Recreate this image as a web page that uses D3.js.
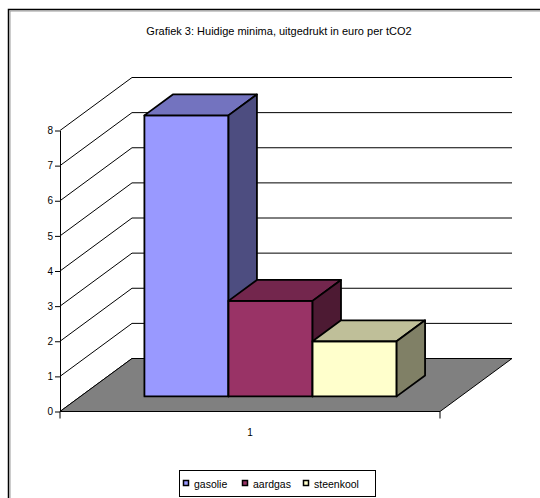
<!DOCTYPE html>
<html>
<head>
<meta charset="utf-8">
<script src="https://cdn.jsdelivr.net/npm/d3@7"></script>
<style>
  html, body { margin: 0; padding: 0; background: #fff; }
  svg { display: block; font-family: Arial, "Liberation Sans", sans-serif; }
</style>
</head>
<body>
<div id="chart"></div>
<script>
// Data
const categories = ['1'];
const seriesNames = ['gasolie', 'aardgas', 'steenkool'];
const seriesValues = [8.0, 2.72, 1.57];
const yTicks = [0, 1, 2, 3, 4, 5, 6, 7, 8];
const frontColors = ['#9999ff', '#993366', '#ffffcc'];
const topColors = ['#7373bf', '#73264d', '#bfbf99'];
const sideColors = ['#4d4d80', '#4d1a33', '#808066'];
const titleText = 'Grafiek 3: Huidige minima, uitgedrukt in euro per tCO2';

const W = 540, H = 498;
const depthX = 72, depthY = 53;      // oblique offset of the back wall
const barFront = 0.285, barBack = 0.68; // bar depth as fraction of floor depth

const svg = d3.select('#chart').append('svg')
  .attr('width', W)
  .attr('height', H);

// Outer frame (open on the right / bottom like the source)
svg.append('path')
  .attr('d', `M8.5,${H}V9.5H${W}`)
  .attr('fill', 'none')
  .attr('stroke', '#000')
  .attr('stroke-width', 1.5);
svg.append('path')
  .attr('d', `M10,${H}V11H${W}`)
  .attr('fill', 'none')
  .attr('stroke', '#999')
  .attr('stroke-width', 1);

svg.append('text')
  .attr('x', 279)
  .attr('y', 35)
  .attr('text-anchor', 'middle')
  .attr('font-size', '11px')
  .text(titleText);

const y = d3.scaleLinear().domain([0, 8]).range([411.5, 130.5]);
const x = d3.scaleBand().domain(categories).range([60, 440]);
const inner = d3.scaleBand()
  .domain(seriesNames)
  .range([0, x.bandwidth()])
  .paddingInner(0)
  .paddingOuter(0.76);

const [x0, x1] = x.range();
const line = d3.line();

// Back wall + side wall gridlines
const grid = svg.append('g').attr('stroke', '#000').attr('stroke-width', 1).attr('fill', 'none');
yTicks.forEach(v => {
  const yy = y(v);
  grid.append('path').attr('d', line([[x0, yy], [x0 + depthX, yy - depthY], [x1 + depthX, yy - depthY]]));
});

// Floor
svg.append('path')
  .attr('d', line([
    [x0, y(0)], [x1, y(0)], [x1 + depthX, y(0) - depthY], [x0 + depthX, y(0) - depthY]
  ]) + 'Z')
  .attr('fill', '#808080')
  .attr('stroke', '#000')
  .attr('stroke-width', 1);

// Value axis
const yAxis = svg.append('g')
  .attr('transform', `translate(${x0},0)`)
  .call(d3.axisLeft(y).tickValues(yTicks).tickSize(5).tickSizeOuter(0).tickPadding(2));
yAxis.select('.domain').attr('stroke', '#000');
yAxis.selectAll('.tick line').attr('stroke', '#000');
yAxis.selectAll('.tick text')
  .attr('font-size', '10px')
  .attr('font-family', 'Arial, "Liberation Sans", sans-serif')
  .attr('fill', '#000');

// Category axis: ticks on band edges, label in the middle
const xAxis = svg.append('g').attr('stroke', '#000');
[x0, x1].forEach(t => {
  xAxis.append('line')
    .attr('x1', t).attr('x2', t)
    .attr('y1', y(0)).attr('y2', y(0) + 7);
});
categories.forEach(c => {
  svg.append('text')
    .attr('x', x(c) + x.bandwidth() / 2)
    .attr('y', 436)
    .attr('text-anchor', 'middle')
    .attr('font-size', '10px')
    .text(c);
});

// 3D bars
const bars = svg.append('g').attr('stroke', '#000').attr('stroke-width', 1.8).attr('stroke-linejoin', 'round');
categories.forEach(c => {
  seriesNames.forEach((s, i) => {
    const fx = barFront * depthX, fy = barFront * depthY;
    const bx = barBack * depthX, by = barBack * depthY;
    const left = x(c) + inner(s) + fx;
    const right = left + inner.bandwidth();
    const top = y(seriesValues[i]) - fy;
    const bottom = y(0) - fy;
    const dx = bx - fx, dy = by - fy;

    bars.append('path')
      .attr('d', line([[left, bottom], [left, top], [right, top], [right, bottom]]) + 'Z')
      .attr('fill', frontColors[i]);
    bars.append('path')
      .attr('d', line([[left, top], [left + dx, top - dy], [right + dx, top - dy], [right, top]]) + 'Z')
      .attr('fill', topColors[i]);
    bars.append('path')
      .attr('d', line([[right, top], [right + dx, top - dy], [right + dx, bottom - dy], [right, bottom]]) + 'Z')
      .attr('fill', sideColors[i]);
  });
});

// Legend
const legendItemsX = [183, 242, 303];
const legend = svg.append('g');
legend.append('rect')
  .attr('x', 179.5).attr('y', 470.5)
  .attr('width', 196).attr('height', 26)
  .attr('fill', '#fff')
  .attr('stroke', '#000');
seriesNames.forEach((s, i) => {
  legend.append('rect')
    .attr('x', legendItemsX[i] + 0.5).attr('y', 480.5)
    .attr('width', 5).attr('height', 5)
    .attr('fill', frontColors[i])
    .attr('stroke', '#000')
    .attr('stroke-width', 1.5);
  legend.append('text')
    .attr('x', legendItemsX[i] + 11)
    .attr('y', 488)
    .attr('font-size', '10.5px')
    .text(s);
});
</script>
</body>
</html>
